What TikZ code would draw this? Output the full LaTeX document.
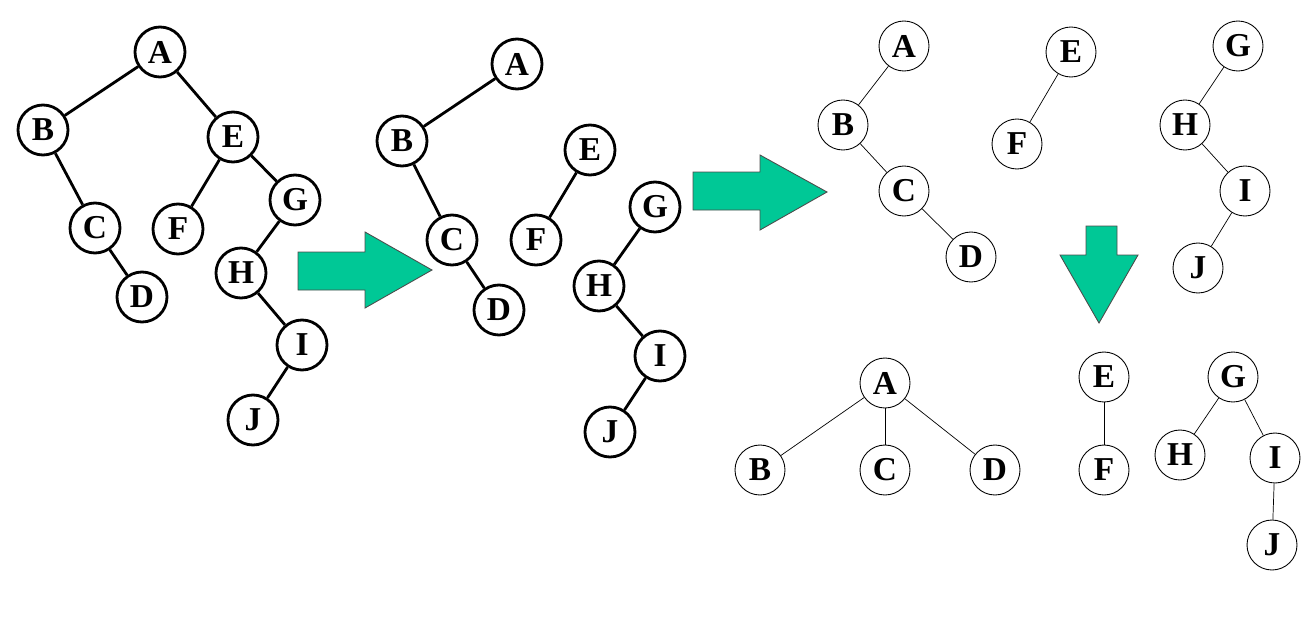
\documentclass[tikz,border=0pt]{standalone}
\usepackage{fontspec}
\setmainfont{Liberation Serif}
\definecolor{arrowgreen}{HTML}{00C896}
\tikzset{
  vtx/.style={draw, circle, minimum size=50*0.02cm, inner sep=0pt, font=\fontsize{19}{19}\selectfont\bfseries},
  thickvtx/.style={vtx, line width=1.6pt},
  thinvtx/.style={vtx, line width=0.5pt},
  fat/.style={line width=1.6pt},
  bigarrow/.style={draw=black!70, fill=arrowgreen, line width=0.5pt}
}
\begin{document}
\begin{tikzpicture}[x=0.02cm, y=-0.02cm]
\useasboundingbox (0,0) rectangle (1312,616);
% first tree
\foreach \n/\x/\y in {A/160/52, B/43/130, C/95/228, D/142/297, E/233/137,
  F/178/229, G/295/200, H/241/273, I/302/345, J/253/420}
  \node[thickvtx] (a\n) at (\x,\y) {\n};
\foreach \u/\v in {A/B, A/E, B/C, C/D, E/F, E/G, G/H, H/I, I/J}
  \draw[fat] (a\u) -- (a\v);
% second forest
\foreach \n/\x/\y in {A/517/64, B/402/141, C/452/240, D/499/310, E/590/150,
  F/536/240, G/655/207, H/599/286, I/660/356, J/610/432}
  \node[thickvtx] (b\n) at (\x,\y) {\n};
\foreach \u/\v in {A/B, B/C, C/D, E/F, G/H, H/I, I/J}
  \draw[fat] (b\u) -- (b\v);
% third forest
\foreach \n/\x/\y in {A/904/46, B/843/125, C/904/191, D/971/257, E/1071/52,
  F/1017/144, G/1238/46, H/1185/125, I/1245/191, J/1198/268}
  \node[thinvtx] (c\n) at (\x,\y) {\n};
\foreach \u/\v in {A/B, B/C, C/D, E/F, G/H, H/I, I/J}
  \draw (c\u) -- (c\v);
% last forest
\foreach \n/\x/\y in {A/885/383, B/760/470, C/885/470, D/995/470, E/1104/377,
  F/1104/470, G/1233/377, H/1180/455, I/1275/458, J/1272/545}
  \node[thinvtx] (d\n) at (\x,\y) {\n};
\foreach \u/\v in {A/B, A/C, A/D, E/F, G/H, G/I, I/J}
  \draw (d\u) -- (d\v);
% arrows
\draw[bigarrow] (298,252) -- (365,252) -- (365,232) -- (432,270) -- (365,308)
  -- (365,290) -- (298,290) -- cycle;
\draw[bigarrow] (693,172) -- (760,172) -- (760,155) -- (827,192) -- (760,230)
  -- (760,210) -- (693,210) -- cycle;
\draw[bigarrow] (1086,226) -- (1117,226) -- (1117,255) -- (1138,255) -- (1099,323)
  -- (1060,255) -- (1086,255) -- cycle;
\end{tikzpicture}
\end{document}
